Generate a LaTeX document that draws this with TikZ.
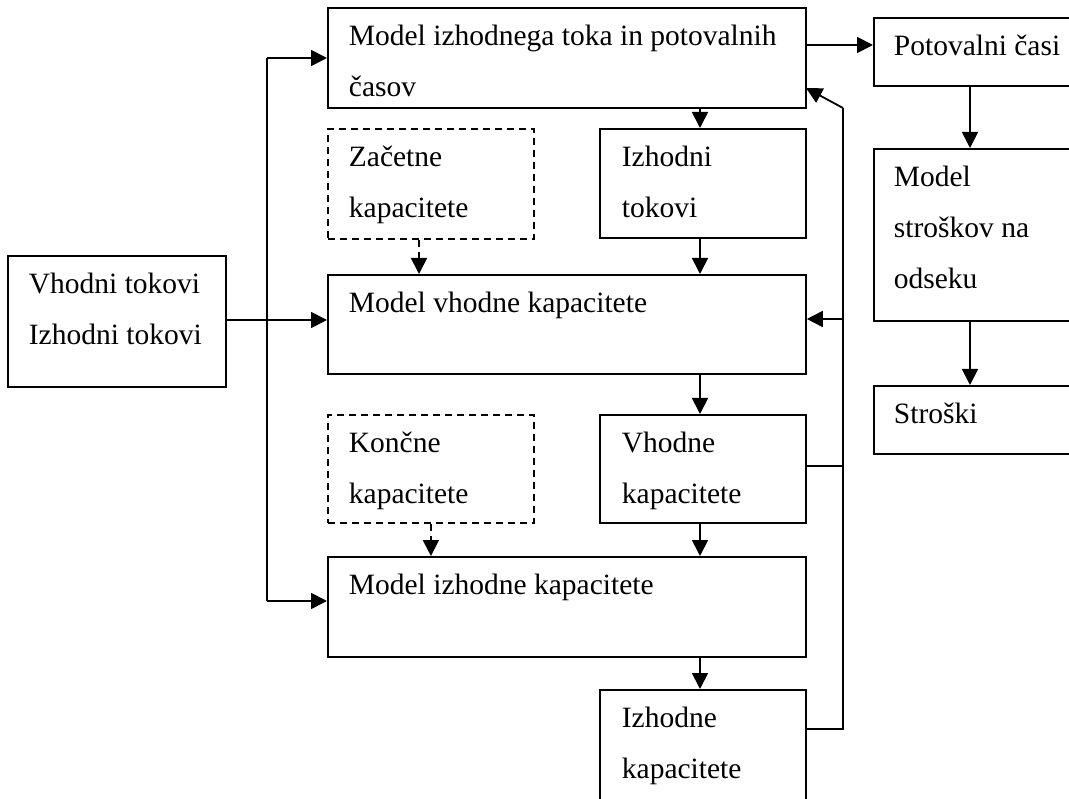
\documentclass[tikz,border=0pt]{standalone}
\usepackage{fontspec}
\setmainfont{Liberation Serif}
\usetikzlibrary{arrows.meta}
\newcommand{\fl}{\rule{0pt}{35.7pt}}
\begin{document}
\begin{tikzpicture}[x=1pt,y=-1pt,line width=1.8pt,
  box/.style={draw,rectangle,anchor=north west,inner sep=0pt},
  dbox/.style={box,dash pattern=on 7pt off 5pt},
  txt/.style={anchor=north west,inner sep=0pt,align=left,
    font=\fontsize{29.5}{51}\selectfont},
  arr/.style={-{Triangle[length=16pt,width=16pt]}},
  darr/.style={arr,dash pattern=on 7pt off 5pt}]
\useasboundingbox (0,0) rectangle (1069,799);
\clip (0,0) rectangle (1069,799);
% boxes
\node[box,minimum width=478pt,minimum height=100pt] (A) at (327,7) {};
\node[box,minimum width=230pt,minimum height=68pt] (P) at (873,17) {};
\node[box,minimum width=230pt,minimum height=172pt] (MS) at (873,148) {};
\node[box,minimum width=230pt,minimum height=68pt] (S) at (873,385) {};
\node[dbox,minimum width=206pt,minimum height=110pt] (Z) at (327,128) {};
\node[box,minimum width=206pt,minimum height=109pt] (IT) at (599,128) {};
\node[box,minimum width=218pt,minimum height=131pt] (V) at (7,255) {};
\node[box,minimum width=478pt,minimum height=99pt] (MV) at (327,274) {};
\node[dbox,minimum width=206pt,minimum height=108pt] (K) at (327,414) {};
\node[box,minimum width=206pt,minimum height=108pt] (VK) at (599,414) {};
\node[box,minimum width=478pt,minimum height=100pt] (MI) at (327,556) {};
\node[box,minimum width=206pt,minimum height=160pt] (IK) at (599,689) {};
% texts
\node[txt] (tA) at ([shift={(21,1.8)}]A.north west) {\fl Model izhodnega toka in potovalnih\\časov};
\node[txt] (tP) at ([shift={(20,1.8)}]P.north west) {\fl Potovalni časi};
\node[txt] (tMS) at ([shift={(20,1.8)}]MS.north west) {\fl Model\\stroškov na\\odseku};
\node[txt] (tS) at ([shift={(20,1.8)}]S.north west) {\fl Stroški};
\node[txt] (tZ) at ([shift={(21,1.8)}]Z.north west) {\fl Začetne\\kapacitete};
\node[txt] (tIT) at ([shift={(22,1.8)}]IT.north west) {\fl Izhodni\\tokovi};
\node[txt] (tV) at ([shift={(21,1.8)}]V.north west) {\fl Vhodni tokovi\\Izhodni tokovi};
\node[txt] (tMV) at ([shift={(21,1.8)}]MV.north west) {\fl Model vhodne kapacitete};
\node[txt] (tK) at ([shift={(21,1.8)}]K.north west) {\fl Končne\\kapacitete};
\node[txt] (tVK) at ([shift={(22,1.8)}]VK.north west) {\fl Vhodne\\kapacitete};
\node[txt] (tMI) at ([shift={(21,1.8)}]MI.north west) {\fl Model izhodne kapacitete};
\node[txt] (tIK) at ([shift={(22,1.8)}]IK.north west) {\fl Izhodne\\kapacitete};
% helper coordinates
\coordinate (c700) at (700,0);
\coordinate (c970) at (970,0);
\coordinate (c419) at (419,0);
\coordinate (a1) at (805,45);
\coordinate (bt) at (267,58);
\coordinate (bb) at (267,601);
\coordinate (bm) at (267,320);
\coordinate (r1) at (843,108);
\coordinate (r2) at (843,319);
\coordinate (r3) at (843,466);
\coordinate (r4) at (843,729);
\coordinate (a2) at (806,88);
% connectors
\draw[arr] (a1) -- (a1 -| P.west);
\draw[arr] (c970 |- P.south) -- (c970 |- MS.north);
\draw[arr] (c970 |- MS.south) -- (c970 |- S.north);
\draw[arr] (c700 |- A.south) -- (c700 |- IT.north);
\draw[arr] (c700 |- IT.south) -- (c700 |- MV.north);
\draw[arr] (c700 |- MV.south) -- (c700 |- VK.north);
\draw[arr] (c700 |- VK.south) -- (c700 |- MI.north);
\draw[arr] (c700 |- MI.south) -- (c700 |- IK.north);
\draw[darr] (c419 |- Z.south) -- (c419 |- MV.north);
\draw[darr] (K.south) -- (K.south |- MI.north);
\draw[arr] (V.east |- bm) -- (bm -| MV.west);
\draw (bt) -- (bb);
\draw[arr] (bt) -- (bt -| A.west);
\draw[arr] (bb) -- (bb -| MI.west);
\draw (r4 -| IK.east) -- (r4) -- (r1);
\draw[arr] (r1) -- (a2);
\draw (r3 -| VK.east) -- (r3);
\draw[arr] (r2) -- (r2 -| MV.east);
\end{tikzpicture}
\end{document}
